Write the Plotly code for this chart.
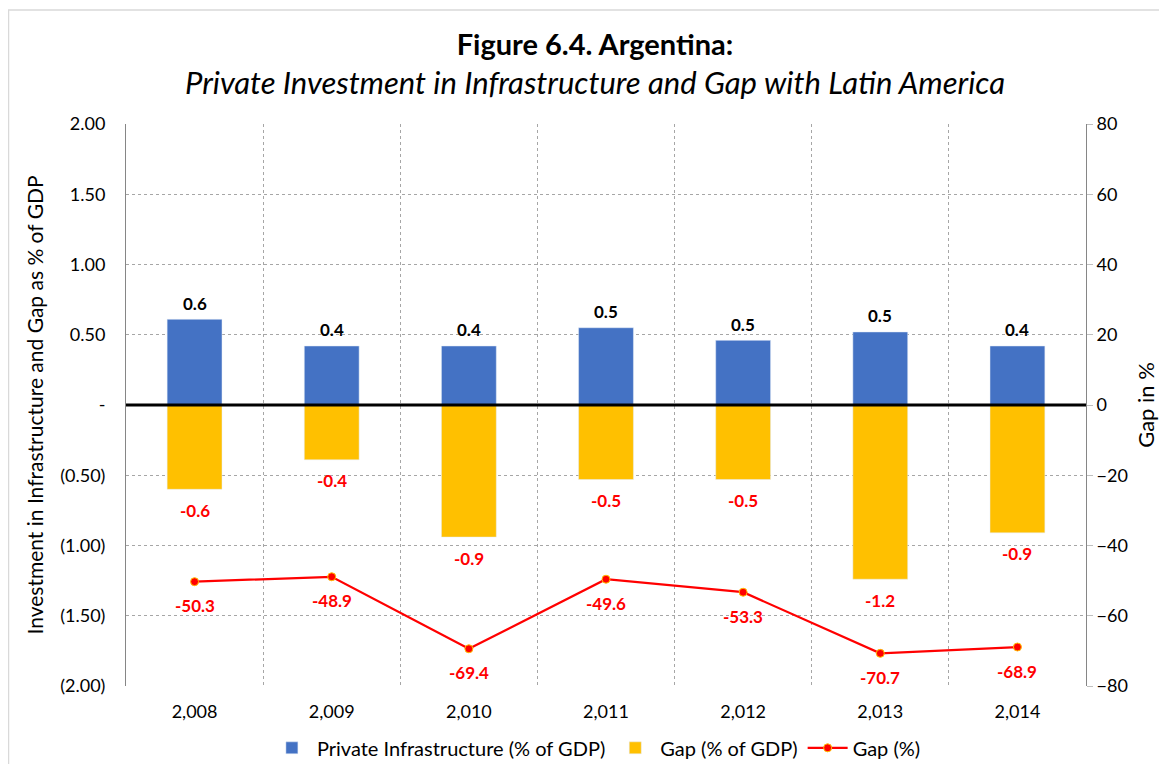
import plotly.graph_objects as go

# data
years = ["2,008", "2,009", "2,010", "2,011", "2,012", "2,013", "2,014"]
private_infra = [0.61, 0.42, 0.42, 0.55, 0.46, 0.52, 0.42]
gap_gdp = [-0.60, -0.39, -0.94, -0.53, -0.53, -1.24, -0.91]
gap_pct = [-50.3, -48.9, -69.4, -49.6, -53.3, -70.7, -68.9]

# labels shown on the chart (rounded as in the source)
infra_labels = ["0.6", "0.4", "0.4", "0.5", "0.5", "0.5", "0.4"]
gap_labels = ["-0.6", "-0.4", "-0.9", "-0.5", "-0.5", "-1.2", "-0.9"]

left_ticks = [2, 1.5, 1, 0.5, 0, -0.5, -1, -1.5, -2]
left_labels = ["2.00", "1.50", "1.00", "0.50", "-", "(0.50)", "(1.00)", "(1.50)", "(2.00)"]

font = "Lato"
blue = "#4472c4"
gold = "#ffc000"
red = "#ff0000"

fig = go.Figure()
fig.add_trace(go.Bar(x=years, y=private_infra, name="Private Infrastructure (% of GDP)",
                     marker=dict(color=blue), width=0.4))
fig.add_trace(go.Bar(x=years, y=gap_gdp, name="Gap (% of GDP)",
                     marker=dict(color=gold), width=0.4))
fig.add_trace(go.Scatter(x=years, y=gap_pct, name="Gap (%)", yaxis="y2", mode="lines+markers",
                         line=dict(color=red, width=2.25),
                         marker=dict(color=red, size=8, line=dict(color=gold, width=1))))

# value labels
for x, y, t in zip(years, private_infra, infra_labels):
    fig.add_annotation(x=x, y=y, text=f"<b>{t}</b>", showarrow=False, yshift=16,
                       font=dict(color="black", size=17))
for x, y, t in zip(years, gap_gdp, gap_labels):
    fig.add_annotation(x=x, y=y, text=f"<b>{t}</b>", showarrow=False, yshift=-21,
                       font=dict(color=red, size=17))
for x, y in zip(years, gap_pct):
    fig.add_annotation(x=x, y=y, yref="y2", text=f"<b>{y:.1f}</b>", showarrow=False, yshift=-24,
                       font=dict(color=red, size=17))

# subtitle
fig.add_annotation(xref="paper", yref="paper", x=0.4885, y=1.0747, yanchor="middle",
                   text="<i>Private Investment in Infrastructure and Gap with Latin America</i>",
                   showarrow=False, font=dict(size=31))

# page body has an 8px margin, so the figure is 16px smaller than the window
fig.update_layout(
    width=1151, height=756,
    barmode="relative",
    plot_bgcolor="white", paper_bgcolor="white",
    font=dict(family=font, size=18, color="black"),
    margin=dict(l=118, r=73, t=116, b=78, autoexpand=False),
    title=dict(text="<b>Figure 6.4. Argentina:</b>", x=0.4885, xanchor="center", xref="paper",
               y=0.951, yref="container", yanchor="middle", font=dict(size=29)),
    xaxis=dict(type="category", tickson="boundaries", showgrid=True, gridcolor="#a6a6a6",
               griddash="dot", ticks="", showline=False, automargin=False,
               ticklabelstandoff=13),
    yaxis=dict(range=[-2, 2], tickvals=left_ticks, ticktext=left_labels, showgrid=True,
               gridcolor="#a6a6a6", griddash="dot", zeroline=False, showline=True,
               linecolor="#868686", ticks="outside", ticklen=16, tickcolor="rgba(0,0,0,0)",
               automargin=False,
               title=dict(text="Investment in Infrastructure and Gap as % of GDP",
                          font=dict(size=21), standoff=10)),
    yaxis2=dict(range=[-80, 80], dtick=20, overlaying="y", side="right", showgrid=False,
                zeroline=False, showline=True, linecolor="#868686", ticks="outside",
                ticklen=6, tickcolor="#bfbfbf", automargin=False,
                title=dict(text="Gap in %", font=dict(size=22), standoff=14)),
    legend=dict(orientation="h", x=0.49, xanchor="center", y=-0.11, yanchor="middle",
                font=dict(size=20), traceorder="normal", itemwidth=40),
    showlegend=True,
)

# black line at zero above the bars, and a grey chart border
fig.add_shape(type="line", xref="paper", yref="y", x0=0, x1=1, y0=0, y1=0,
              line=dict(color="black", width=3), layer="above")
fig.add_shape(type="rect", xref="paper", yref="paper", x0=-0.1224, x1=1.2, y0=-0.3, y1=1.203,
              line=dict(color="#d9d9d9", width=1.5), layer="below")

fig.write_html("out.html")
